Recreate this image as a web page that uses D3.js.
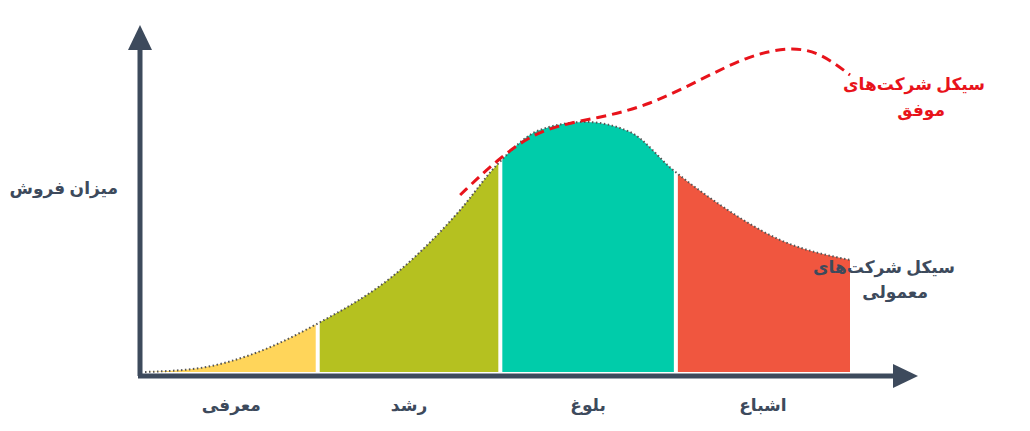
<!DOCTYPE html><html><head><meta charset="utf-8"><script src="https://cdn.jsdelivr.net/npm/d3@7"></script>
<style>body{margin:0;background:#fff}text{font-family:"Noto Sans","DejaVu Sans",sans-serif;font-weight:bold}</style></head><body><svg id="c" width="1030" height="431"></svg>
<script>
const curveX=[0,7.8,14.9,24.1,36.2,44.7,49.9,56,62.4,68.8,74.9,81.6,90.1,100];
const curveY=[0,1.6,6.8,18.8,40.8,64.8,82.8,96.8,100,96,80.8,66.8,52.8,44.8];
const dashX=[44.7,49.9,56,64.5,71.6,78.7,85.8,91.5,95.7,100];
const dashY=[70.8,84.8,97.6,101.6,106.8,116.8,126.8,130,128,118.8];
const phases=["معرفی","رشد","بلوغ","اشباع"];
const bounds=[0,24.5,50.4,75.3,100];
const colors=["#FFD55A","#B5C120","#00CCAA","#F0563F"];
const svg=d3.select("#c");
const x=d3.scaleLinear().domain([0,100]).range([145,850]);
const y=d3.scaleLinear().domain([0,100]).range([372,122]);
const pts=curveX.map((v,i)=>[v,curveY[i]]);
const area=d3.area().x(d=>x(d[0])).y0(y(0)).y1(d=>y(d[1])).curve(d3.curveMonotoneX);
const line=d3.line().x(d=>x(d[0])).y(d=>y(d[1])).curve(d3.curveMonotoneX);
const defs=svg.append("defs");
phases.forEach((p,i)=>{
 defs.append("clipPath").attr("id","cp"+i).append("rect").attr("x",x(bounds[i])+(i?2:0)).attr("y",0).attr("width",x(bounds[i+1])-x(bounds[i])-(i?2:0)-(i<3?2:0)).attr("height",431);
 svg.append("path").datum(pts).attr("d",area).attr("fill",colors[i]).attr("clip-path","url(#cp"+i+")");
 svg.append("text").attr("x",x((bounds[i]+bounds[i+1])/2)).attr("y",411).attr("text-anchor","middle").attr("font-size",17).attr("fill","#3D4A5C").text(p);
});
svg.append("path").datum(pts).attr("d",line).attr("fill","none").attr("stroke","#555").attr("stroke-width",2).attr("stroke-dasharray","1.5,2.5");
svg.append("path").datum(dashX.map((v,i)=>[v,dashY[i]])).attr("d",line.curve(d3.curveBasis)).attr("fill","none").attr("stroke","#E8131B").attr("stroke-width",3).attr("stroke-dasharray","10,6");
const ax="#3D4A5C";
svg.append("line").attr("x1",140).attr("y1",376).attr("x2",140).attr("y2",45).attr("stroke",ax).attr("stroke-width",5);
svg.append("line").attr("x1",138).attr("y1",376).attr("x2",900).attr("y2",376).attr("stroke",ax).attr("stroke-width",5);
svg.append("path").attr("d","M140,25 L128,50 L152,50 Z").attr("fill",ax);
svg.append("path").attr("d","M918,376 L893,364 L893,388 Z").attr("fill",ax);
svg.append("text").attr("x",118).attr("y",194).attr("text-anchor","end").attr("font-size",17).attr("fill",ax).text("میزان فروش");
svg.append("text").attr("x",985).attr("y",90).attr("text-anchor","end").attr("font-size",17).attr("fill","#E8131B").text("سیکل شرکت‌های");
svg.append("text").attr("x",945).attr("y",116).attr("text-anchor","end").attr("font-size",17).attr("fill","#E8131B").text("موفق");
svg.append("text").attr("x",955).attr("y",273).attr("text-anchor","end").attr("font-size",17).attr("fill",ax).text("سیکل شرکت‌های");
svg.append("text").attr("x",928).attr("y",298).attr("text-anchor","end").attr("font-size",17).attr("fill",ax).text("معمولی");
</script></body></html>
